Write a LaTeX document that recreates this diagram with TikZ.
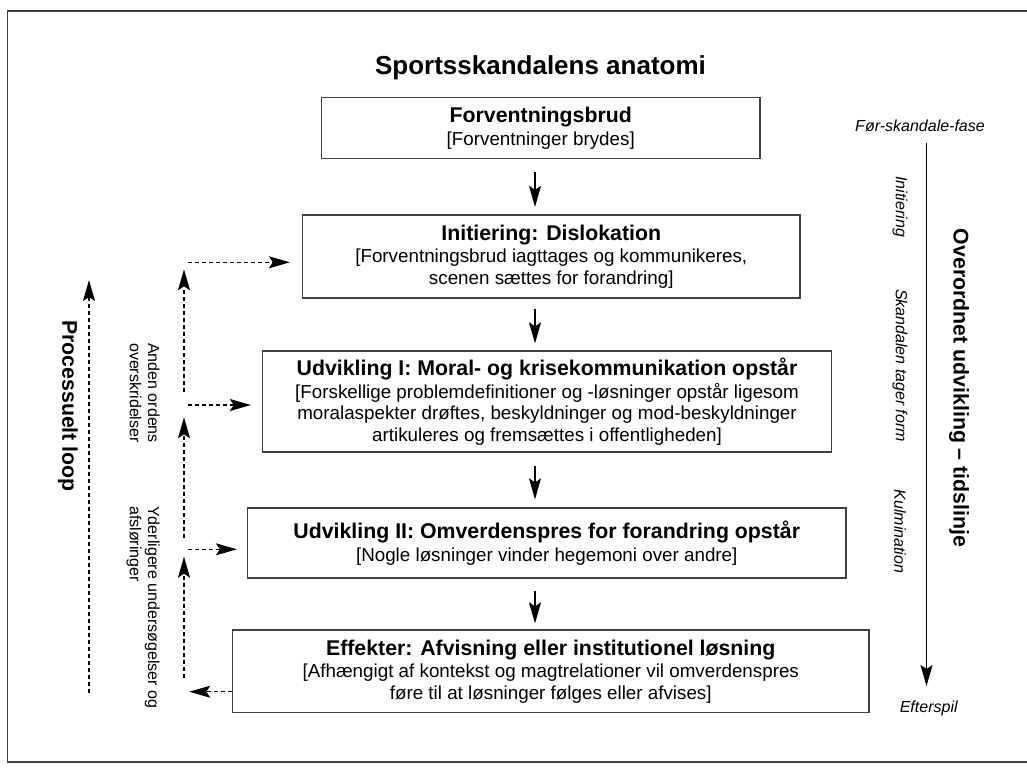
\documentclass[tikz,border=0pt]{standalone}
\usepackage{fontspec}
\setmainfont{Liberation Sans}
\usetikzlibrary{arrows.meta}
\definecolor{boxgray}{HTML}{404040}
\newcommand{\boxhead}{\bfseries\fontsize{21.3}{22.5}\selectfont}
\begin{document}
\begin{tikzpicture}[x=1pt,y=-1pt,
  box/.style={draw=boxgray, line width=1.3pt, align=center, inner sep=0pt,
    font=\fontsize{18.8}{21.5}\selectfont},
  arr/.style={line width=1.2pt, -{Stealth[length=21pt,width=12pt,inset=4pt]}},
  darr/.style={arr, dash pattern=on 4pt off 3pt},
  ital/.style={font=\itshape\fontsize{16}{18.4}\selectfont},
  sidetext/.style={font=\fontsize{16}{18.4}\selectfont, align=left, inner sep=0pt},
  boldlabel/.style={font=\bfseries\fontsize{21.3}{24}\selectfont}
]
\useasboundingbox (0,0) rectangle (1027,782);
\fill[white] (0,0) rectangle (1027,782);
% frame
\draw[boxgray, line width=1.3pt] (1030,11) -- (7.5,11) -- (7.5,762) -- (1030,762);

% title
\node[font=\bfseries\fontsize{26}{30}\selectfont, anchor=base] (title) at (540.5,74) {Sportsskandalens anatomi};

% boxes
\node[box, minimum width=438.5pt, minimum height=61pt] (b1) at (540.75,128)
  {{\boxhead Forventningsbrud}\\[1pt]{[}Forventninger brydes{]}};
\node[box, minimum width=497.5pt, minimum height=83pt] (b2) at (551.25,256.5)
  {{\boxhead Initiering: Dislokation}\\[1pt]{[}Forventningsbrud iagttages og kommunikeres,\\scenen sættes for forandring{]}};
\node[box, minimum width=569pt, minimum height=101pt] (b3) at (547,401.5)
  {{\boxhead Udvikling I: Moral- og krisekommunikation opstår}\\[1pt]{[}Forskellige problemdefinitioner og -løsninger opstår ligesom\\moralaspekter drøftes, beskyldninger og mod-beskyldninger\\artikuleres og fremsættes i offentligheden{]}};
\node[box, minimum width=598.5pt, minimum height=70pt] (b4) at (546.75,543)
  {{\boxhead Udvikling II: Omverdenspres for forandring opstår}\\[1pt]{[}Nogle løsninger vinder hegemoni over andre{]}};
\node[box, minimum width=636.5pt, minimum height=82.5pt] (b5) at (550.75,671.25)
  {{\boxhead Effekter: Afvisning eller institutionel løsning}\\[1pt]{[}Afhængigt af kontekst og magtrelationer vil omverdenspres\\føre til at løsninger følges eller afvises{]}};

% main arrows
\coordinate (ax) at (535,0);
\draw[arr, shorten <=13pt, shorten >=7.5pt] (b1.south -| ax) -- (b2.north -| ax);
\draw[arr, shorten <=10pt, shorten >=7pt] (b2.south -| ax) -- (b3.north -| ax);
\draw[arr, shorten <=13pt, shorten >=8pt] (b3.south -| ax) -- (b4.north -| ax);
\draw[arr, shorten <=12pt, shorten >=6pt] (b4.south -| ax) -- (b5.north -| ax);

% right side timeline
\node[ital, anchor=base] (pre) at (920,131.8) {Før-skandale-fase};
\node[ital, anchor=base] (post) at (928.7,712) {Efterspil};
\coordinate (tla) at (926.5,143);
\coordinate (tlb) at (926.5,686);
\draw[arr] (tla) -- (tlb);
\node[ital, rotate=-90] (l1) at (900,206.7) {Initiering};
\node[ital, rotate=-90] (l2) at (900,365.5) {Skandalen tager form};
\node[ital, rotate=-90] (l3) at (900,531.5) {Kulmination};
\node[boldlabel, rotate=-90] (tl) at (959,388) {Overordnet udvikling – tidslinje};

% left side
\node[boldlabel, rotate=-90] (pl) at (68,406) {Processuelt loop};
\coordinate (pa) at (89,693);
\coordinate (pb) at (89,280);
\draw[darr] (pa) -- (pb);

\node[sidetext, rotate=-90, anchor=north west] (ao) at (160,343) {Anden ordens\\overskridelser};
\node[sidetext, rotate=-90, anchor=north west] (yu) at (160,506) {Yderligere undersøgelser og\\afsløringer};

% dashed feedback arrows
\coordinate (v1a) at (184,391.7); \coordinate (v1b) at (184,269.3);
\coordinate (v2a) at (184,538);   \coordinate (v2b) at (184,417.3);
\coordinate (v3a) at (184,678);   \coordinate (v3b) at (184,556.7);
\draw[darr] (v1a) -- (v1b);
\draw[darr] (v2a) -- (v2b);
\draw[darr] (v3a) -- (v3b);
\coordinate (h1) at (188,262.3);
\coordinate (h2) at (188,405);
\coordinate (h3) at (188,549.3);
\coordinate (h4) at (189.3,691.7);
\draw[darr, shorten >=12pt] (h1) -- (h1 -| b2.west);
\draw[darr, shorten >=11pt] (h2) -- (h2 -| b3.west);
\draw[darr, shorten >=10pt] (h3) -- (h3 -| b4.west);
\draw[darr] (h4 -| b5.west) -- (h4);
\end{tikzpicture}
\end{document}
